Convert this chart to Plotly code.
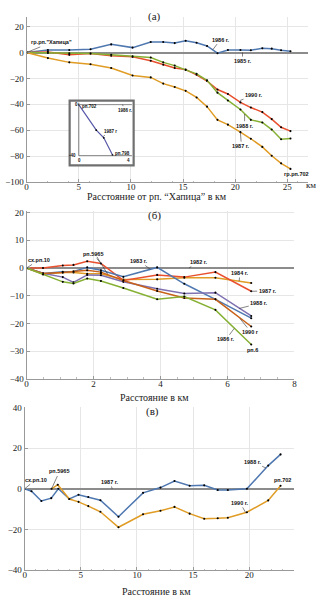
import plotly.graph_objects as go

# ---------------- Panel (a) data ----------------
a_x = [0, 2.04, 4.09, 6.13, 8.11, 10.16, 11.9, 13.1, 14.2, 15.25, 16.3, 17.3,
       18.3, 19.3, 20.5, 21.5, 22.6, 23.5, 24.4, 25.3]
a_1986 = [0, 2.0, 2.0, 2.5, 6.3, 3.8, 8.1, 8.1, 7.3, 9.1, 7.6, 5.1,
          -0.5, 2.0, 2.0, 1.8, 3.3, 3.0, 1.8, 1.0]
a_1987 = [0, -4.3, -7.6, -9.1, -11.9, -17.7, -19.2, -24, -26.6, -29.6, -34.7, -41.8,
          -52, -55.7, -61.5, -66.6, -72.9, -79.7, -85.6, -89.9]
a_1988 = [0, -0.3, -0.5, -0.8, -1.8, -3.0, -3.8, -7.6, -10.1, -13.4, -16.5, -21.5,
          -31, -37, -44, -52, -54, -59.5, -67, -66.4]
a_1990 = [0, 0.5, -1.8, -0.8, -2.5, -3.3, -6.3, -9.4, -11.9, -13.2, -17.2, -22,
          -28.6, -32, -38.5, -42.5, -46, -51.4, -57.7, -60.7]

# inset in panel (a)
inset_x = [0, 1.4, 2.0, 2.7]
inset_y = [0, -20, -26, -39.5]

# ---------------- Panel (b) data ----------------
b_x = [0, 0.49, 1.08, 1.4, 1.81, 2.22, 2.89, 3.9, 4.71, 5.64, 6.71]
b_1983 = [0, -2.0, -1.4, -1.3, 0.2, -0.8, -3.2, 0.2, -5.7, -11.3, -18.1]
b_1984 = [0, -2.3, -1.6, -1.6, -2.1, -2.1, -4.2, -4.1, -3.5, -3.5, -5.4]
b_1986 = [0, -2.3, -5.0, -5.6, -3.8, -4.7, -7.2, -11.3, -10.3, -15.1, -27.6]
b_1987 = [0, 0, 0.9, 1.1, 2.4, 1.6, -4.5, -2.5, -3.3, -1.5, -8.4]
b_1988 = [0, -1.9, -3.3, -5.2, -2.5, -2.6, -5.0, -7.5, -9.2, -8.9, -17.3]
b_1990 = [0, -2.0, -1.6, -1.3, -0.8, -1.5, -4.5, -8.3, -10.8, -11.3, -21.1]

# ---------------- Panel (c) data ----------------
c_x1988 = [0, 0.61, 1.49, 2.37, 3.0, 3.98, 4.8, 5.67, 6.75, 8.36, 10.55, 12.1,
           13.35, 14.7, 16.0, 17.2, 18.1, 19.8, 21.7, 22.8]
c_1988 = [0, -1.2, -6.0, -4.6, 0, -5.0, -2.9, -4.0, -5.6, -13.7, -2.0, 0.6,
          3.8, 1.5, 1.7, -0.6, -0.6, 0, 11.4, 16.9]
c_x1990 = [2.4, 2.95, 3.98, 4.8, 5.67, 6.75, 8.36, 10.55, 12.1, 13.35, 14.7,
           16.0, 17.2, 18.1, 19.8, 21.7, 22.8]
c_1990 = [0, 2.0, -5.0, -6.4, -8.5, -11.3, -18.9, -12.5, -10.8, -8.9, -12.2,
          -14.7, -14.5, -14.2, -11.5, -5.7, 1.5]

a_xticks = [0, 5, 10, 15, 20, 25]
a_yticks = [20, 0, -20, -40, -60, -80, -100]
b_xticks = [0, 2, 4, 6, 8]
b_yticks = [20, 10, 0, -10, -20, -30, -40]
c_xticks = [0, 5, 10, 15, 20]
c_yticks = [40, 20, 0, -20, -40]

BLUE = '#4f78b0'
ORANGE = '#e09c24'
GREEN = '#86b034'
RED = '#e8502e'
PURPLE = '#7f70b0'
BROWN = '#c8621a'
INSET = '#5858a8'

W, H = 325, 600

fig = go.Figure()


def line(x, y, color, n):
    sfx = '' if n == 1 else str(n)
    fig.add_trace(go.Scatter(x=x, y=y, mode='lines+markers',
                             line=dict(color=color, width=1.5),
                             marker=dict(color='black', size=2.1),
                             xaxis='x' + sfx, yaxis='y' + sfx,
                             showlegend=False, hoverinfo='skip'))


line(a_x, a_1986, BLUE, 1)
line(a_x, a_1990, RED, 1)
line(a_x, a_1988, GREEN, 1)
line(a_x, a_1987, ORANGE, 1)

line(b_x, b_1984, ORANGE, 2)
line(b_x, b_1987, RED, 2)
line(b_x, b_1983, BLUE, 2)
line(b_x, b_1988, PURPLE, 2)
line(b_x, b_1990, BROWN, 2)
line(b_x, b_1986, GREEN, 2)

line(c_x1988, c_1988, BLUE, 3)
line(c_x1990, c_1990, ORANGE, 3)

fig.add_trace(go.Scatter(x=inset_x, y=inset_y, mode='lines+markers',
                         line=dict(color=INSET, width=1.2),
                         marker=dict(color='black', size=1.8),
                         xaxis='x4', yaxis='y4', showlegend=False, hoverinfo='skip'))

tickfont = dict(family='Liberation Serif', size=9, color='#222')


def xax(dom, rng, ticks, anchor):
    return dict(domain=dom, range=rng, tickvals=ticks, anchor=anchor,
                showline=True, linecolor='#999', linewidth=1,
                ticks='inside', ticklen=3, tickcolor='#999',
                minor=dict(ticks='inside', ticklen=1.5, tickcolor='#bbb', nticks=5, showgrid=False),
                showgrid=True, gridcolor='#e6e6e6', gridwidth=1,
                ticklabelstandoff=-4,
                zeroline=False, tickfont=tickfont, fixedrange=True)


def yax(dom, rng, ticks, anchor):
    return dict(domain=dom, range=rng, tickvals=ticks, anchor=anchor,
                showline=True, linecolor='#999', linewidth=1,
                ticks='inside', ticklen=3, tickcolor='#999',
                showgrid=True, gridcolor='#e6e6e6', gridwidth=1,
                zeroline=True, zerolinecolor='#8c8c8c', zerolinewidth=2,
                tickfont=tickfont, fixedrange=True)


def py(p):
    return 1 - p / H


fig.update_layout(
    width=W, height=H, margin=dict(l=0, r=0, t=0, b=0),
    paper_bgcolor='white', plot_bgcolor='white',
    xaxis=xax([25 / W, 311 / W], [0, 27], a_xticks, 'y'),
    yaxis=yax([py(180), py(12)], [-100, 27.6], a_yticks, 'x'),
    xaxis2=xax([25 / W, 297 / W], [0, 8], b_xticks, 'y2'),
    yaxis2=yax([py(380.3), py(209)], [-40, 20.7], b_yticks, 'x2'),
    xaxis3=xax([23 / W, 296.6 / W], [0, 24], c_xticks, 'y3'),
    yaxis3=yax([py(574.8), py(409.2)], [-40, 40], c_yticks, 'x3'),
    xaxis4=dict(domain=[68.7 / W, 133.7 / W], range=[-0.73, 4.39], anchor='y4',
                showgrid=False, zeroline=False, showticklabels=False, showline=False,
                fixedrange=True),
    yaxis4=dict(domain=[py(163), py(97.3)], range=[-47.5, 3.1], anchor='x4',
                showgrid=False, zeroline=False, showticklabels=False, showline=False,
                fixedrange=True),
)

shapes = []
# inset frame and axes
shapes.append(dict(type='rect', xref='x4 domain', yref='y4 domain', x0=0, x1=1, y0=0, y1=1,
                   line=dict(color='#707070', width=2.2), layer='above'))
shapes.append(dict(type='line', xref='x4', yref='y4', x0=0, x1=0, y0=-40, y1=1.5,
                   line=dict(color='#555', width=0.8)))
shapes.append(dict(type='line', xref='x4', yref='y4', x0=0, x1=4.25, y0=-40, y1=-40,
                   line=dict(color='#555', width=0.8)))
shapes.append(dict(type='line', xref='x4', yref='y4', x0=0, x1=4.25, y0=0, y1=0,
                   line=dict(color='#888', width=1)))
# second leader of "рп.5965" in (b)
shapes.append(dict(type='line', xref='x2', yref='y2', x0=2.1, x1=2.42, y0=4.0, y1=-2.2,
                   line=dict(color='#333', width=0.6)))
fig.update_layout(shapes=shapes)

LF = dict(family='Liberation Sans', size=5.5, color='#111')
ann = []


def lab(text, n, tip, pos, arrow=True, size=5.5):
    sfx = '' if n == 1 else str(n)
    f = dict(LF)
    f['size'] = size
    if tip is None:
        tip = pos
    d = dict(text='<b>' + text + '</b>', x=tip[0], y=tip[1], xref='x' + sfx, yref='y' + sfx,
             font=f, showarrow=arrow)
    if arrow:
        d.update(ax=pos[0], ay=pos[1], axref='x' + sfx, ayref='y' + sfx,
                 arrowhead=0, arrowwidth=0.6, arrowcolor='#333', standoff=0)
    else:
        d.update(x=pos[0], y=pos[1])
    ann.append(d)


# panel (a)
lab('гр.рп."Хапица"', 1, (0, 0), (2.36, 7.8))
lab('1986 г.', 1, (17.85, 2.2), (18.6, 10.0))
lab('1985 г.', 1, (20.7, 0), (20.7, -6.6))
lab('1990 г.', 1, (20.47, -37), (21.8, -33))
lab('1988 г.', 1, (20.9, -47.5), (20.9, -56.5))
lab('1987 г.', 1, (20.5, -62), (20.6, -72.3))
lab('гр.рп.702', 1, None, (25.9, -93.6), arrow=False)
# inset
lab('рп.702', 4, None, (0.85, -1.6), arrow=False, size=4.5)
lab('1986 г.', 4, (3.5, 0), (3.68, -4.3), size=4.5)
lab('1987 г', 4, (1.95, -25), (2.5, -20.8), size=4.5)
lab('рп.798', 4, None, (3.5, -38.6), arrow=False, size=4.5)
lab('0', 4, None, (-0.22, 0), arrow=False, size=4.5)
lab('-40', 4, None, (-0.5, -40), arrow=False, size=4.5)
lab('0', 4, None, (0.08, -43.4), arrow=False, size=4.5)
lab('4', 4, None, (4.0, -43.4), arrow=False, size=4.5)
# panel (b)
lab('сх.рп.10', 2, (0, 0), (0.37, 2.9))
lab('рп.5965', 2, (2.22, 1.6), (1.99, 5.0))
lab('1983 г.', 2, (3.7, -0.5), (3.36, 2.5))
lab('1982 г.', 2, (4.85, 0), (5.15, 2.1))
lab('1984 г.', 2, (6.35, -4.7), (6.37, -1.8))
lab('1987 г.', 2, (6.71, -8.4), (7.2, -8.3))
lab('1988 г.', 2, (6.35, -14.6), (6.95, -12.8))
lab('1990 г', 2, (6.37, -18.2), (6.7, -23.1))
lab('1986 г.', 2, (6.2, -21.8), (5.96, -25.7))
lab('рп.6', 2, None, (6.75, -29.4), arrow=False)
# panel (c)
lab('сх.рп.10', 3, (0, 0), (0.98, 4.4))
lab('рп.5965', 3, (2.4, 0), (3.1, 8.5))
lab('1987 г.', 3, (7.8, 0), (7.6, 3.4))
lab('1988 г.', 3, (21.5, 10.2), (20.3, 13.3))
lab('1990 г.', 3, (19.7, -11.8), (19.2, -6.9))
lab('рп.702', 3, None, (23.0, 4.2), arrow=False)

SF = dict(family='Liberation Serif', size=10, color='#222')


def ptext(text, x, y, size=10):
    f = dict(SF)
    f['size'] = size
    ann.append(dict(text=text, x=x / W, y=1 - y / H, xref='paper', yref='paper',
                    showarrow=False, font=f, xanchor='center', yanchor='middle'))


ptext('(а)', 155, 12, 11)
ptext('(б)', 155, 214, 11)
ptext('(в)', 153, 413, 11)
ptext('км', 314, 183, 9)
ptext('Расстояние от рп. “Хапица” в км', 157.5, 195)
ptext('Расстояние в км', 155, 399)
ptext('Расстояние в км', 157, 596)

fig.update_layout(annotations=ann)
fig.write_html('out.html')
